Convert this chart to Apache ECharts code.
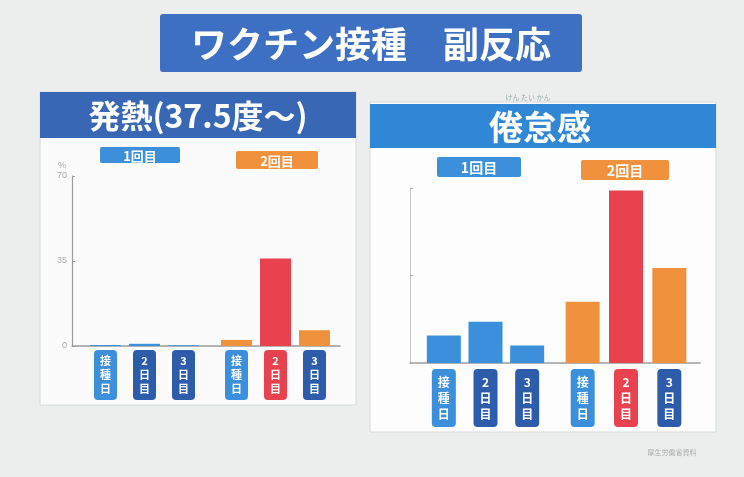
<!DOCTYPE html>
<html><head><meta charset="utf-8">
<script src="https://cdn.jsdelivr.net/npm/echarts@6/dist/echarts.min.js"></script>
<style>html,body{margin:0;padding:0;background:#eceeee;}#c{width:744px;height:477px;}</style>
</head><body><div id="c"></div>
<script>
// ---- data ----
const dayCategories = ['接種日', '2日目', '3日目'];
const feverDose1 = [0.4, 0.9, 0.3];
const feverDose2 = [2.5, 36, 6.5];
const fatigueDose1 = [11, 16.5, 7];
const fatigueDose2 = [24.5, 69, 38];
const yTickValues = [0, 35, 70];
const yMax = 70, yInterval = 35;

// ---- styles ----
const FONT = '"Noto Sans CJK JP","Noto Sans",sans-serif';
const BLUE = '#3b8fdb', ORANGE = '#f0913d', RED = '#e8424e', DARK = '#2c5caa';
const dose1BarColors = [BLUE, BLUE, BLUE];
const dose2BarColors = [ORANGE, RED, ORANGE];
const dose1LabelBg = [BLUE, DARK, DARK];
const dose2LabelBg = [BLUE, RED, DARK];

function vert(s){ return s.split('').join('\n'); }
function catData(bgs){
  return dayCategories.map((c,i)=>({
    value: c,
    textStyle: { backgroundColor: bgs[i] }
  }));
}
function dataXAxis(gi, bgs, big){
  return {
    gridIndex: gi, type: 'category', data: catData(bgs),
    axisLine:{show:false}, axisTick:{show:false},
    axisLabel:{
      interval:0, margin: big?6:4, formatter: v => vert(v),
      color:'#fff', fontFamily: FONT, fontWeight:'bold',
      fontSize: big?12:11, lineHeight: big?16:14,
      padding: big?[5,6,5,6]:[4,6,4,6], borderRadius:4
    }
  };
}
function hiddenY(gi){
  return {gridIndex:gi, type:'value', min:0, max:yMax, interval:yInterval, show:false};
}
function bars(xi, vals, colors, w){
  return {
    type:'bar', xAxisIndex:xi, yAxisIndex:xi, barWidth:w,
    data: vals.map((v,i)=>({value:v, itemStyle:{color:colors[i]}}))
  };
}

const chart = echarts.init(document.getElementById('c'), null, {renderer:'canvas'});

function boxLabel(x,y,w,h,fill,text,fs){
  return [
    {type:'rect', shape:{x:x,y:y,width:w,height:h,r:2}, style:{fill:fill}, z:1},
    {type:'text', x:x+w/2, y:y+h/2+1, z:2,
     style:{text:text, fill:'#fff', font:'bold '+fs+'px '+FONT,
            textAlign:'center', textVerticalAlign:'middle', align:'center', verticalAlign:'middle'}}
  ];
}

const option = {
  backgroundColor:'#eceeee',
  animation:false,
  grid:[
    {left:72, top:176, width:268, height:170},   // 0 frame left
    {left:86, top:176, width:117, height:170},   // 1 fever dose1
    {left:217, top:176, width:117, height:170},  // 2 fever dose2
    {left:410, top:188, width:290, height:175},  // 3 frame right
    {left:423, top:188, width:125, height:175},  // 4 fatigue dose1
    {left:561, top:188, width:130, height:175}   // 5 fatigue dose2
  ],
  xAxis:[
    {gridIndex:0, type:'category', data:[''], axisLine:{lineStyle:{color:'#9a9c9e',width:1.5}}, axisTick:{show:false}, axisLabel:{show:false}},
    dataXAxis(1, dose1LabelBg, false),
    dataXAxis(2, dose2LabelBg, false),
    {gridIndex:3, type:'category', data:[''], axisLine:{lineStyle:{color:'#9a9c9e',width:1.5}}, axisTick:{show:false}, axisLabel:{show:false}},
    dataXAxis(4, dose1LabelBg, true),
    dataXAxis(5, dose2LabelBg, true)
  ],
  yAxis:[
    {gridIndex:0, type:'value', min:0, max:yMax, interval:yInterval, name:'%', nameGap:6,
     nameTextStyle:{color:'#aaa', fontSize:9, align:'right', padding:[0,6,0,0]},
     axisLine:{show:true, lineStyle:{color:'#9a9c9e', width:1.2}},
     axisTick:{show:true, length:3, inside:true, lineStyle:{color:'#9a9c9e'}},
     axisLabel:{color:'#aaa', fontSize:9, margin:5, formatter:v => yTickValues.includes(v) ? String(v) : ''},
     splitLine:{show:false}},
    hiddenY(1), hiddenY(2),
    {gridIndex:3, type:'value', min:0, max:yMax, interval:yInterval,
     axisLine:{show:true, lineStyle:{color:'#c4c6c8', width:1}},
     axisTick:{show:true, length:3, inside:true, lineStyle:{color:'#aaa'}},
     axisLabel:{show:false}, splitLine:{show:false}},
    hiddenY(4), hiddenY(5)
  ],
  series:[
    bars(1, feverDose1, dose1BarColors, 31),
    bars(2, feverDose2, dose2BarColors, 31),
    bars(4, fatigueDose1, dose1BarColors, 34),
    bars(5, fatigueDose2, dose2BarColors, 34)
  ],
  graphic:{elements:[
    // panels
    {type:'rect', shape:{x:40,y:92,width:316,height:313}, style:{fill:'#fbfbfb', stroke:'#d6d9da'}, z:-10},
    {type:'rect', shape:{x:370,y:102,width:346,height:330}, style:{fill:'#fdfdfd', stroke:'#d6d9da'}, z:-10},
    // title banner
    {type:'rect', shape:{x:160,y:14,width:422,height:58,r:3}, style:{fill:'#3d70c2'}, z:1},
    {type:'text', x:371, y:44, z:2, style:{text:'ワクチン接種　副反応', fill:'#fff', font:'bold 36px '+FONT,
      textAlign:'center', textVerticalAlign:'middle', align:'center', verticalAlign:'middle'}},
    // headers
    {type:'rect', shape:{x:40,y:92,width:316,height:46}, style:{fill:'#3767b5'}, z:1},
    {type:'text', x:198, y:116, z:2, style:{text:'発熱(37.5度〜)', fill:'#fff', font:'bold 32px '+FONT,
      textAlign:'center', textVerticalAlign:'middle', align:'center', verticalAlign:'middle'}},
    {type:'rect', shape:{x:370,y:104,width:346,height:44}, style:{fill:'#2f87d6'}, z:1},
    {type:'text', x:540, y:127, z:2, style:{text:'倦怠感', fill:'#fff', font:'bold 34px '+FONT,
      textAlign:'center', textVerticalAlign:'middle', align:'center', verticalAlign:'middle'}},
    {type:'text', x:528, y:97, z:2, style:{text:'けん たい かん', fill:'#9aa', font:'7px '+FONT,
      textAlign:'center', textVerticalAlign:'middle', align:'center', verticalAlign:'middle'}},
    // dose labels
    ...boxLabel(100,147,80,16,BLUE,'1回目',13),
    ...boxLabel(236,151,82,18,ORANGE,'2回目',13),
    ...boxLabel(437,157,84,20,BLUE,'1回目',14),
    ...boxLabel(581,160,88,20,ORANGE,'2回目',14),
    // source
    {type:'text', x:672, y:452, z:2, style:{text:'厚生労働省資料', fill:'#a8aaaa', font:'7px '+FONT,
      textAlign:'center', textVerticalAlign:'middle', align:'center', verticalAlign:'middle'}}
  ]}
};
chart.setOption(option);
</script>
</body></html>
